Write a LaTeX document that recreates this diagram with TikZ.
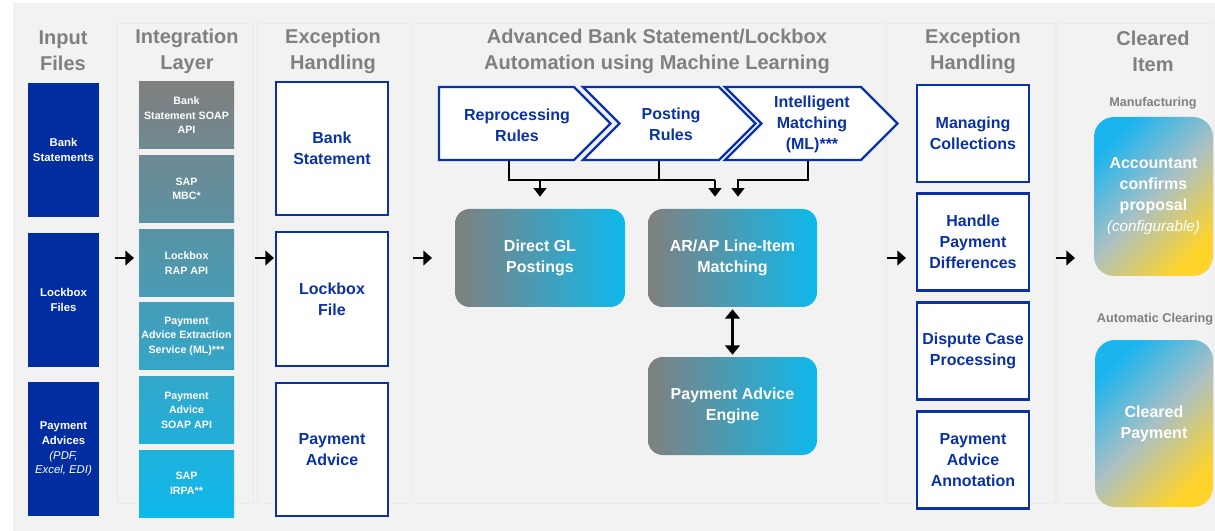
\documentclass[tikz,border=0pt]{standalone}
\usepackage{fontspec}
\setmainfont{Liberation Sans}
\usetikzlibrary{arrows.meta}
\definecolor{bgc}{HTML}{F2F2F2}
\definecolor{navy}{HTML}{002EA0}
\definecolor{bblue}{HTML}{0A32A5}
\definecolor{hgray}{HTML}{808080}
\definecolor{gA}{HTML}{808080}
\definecolor{gB}{HTML}{0EB9EC}
\definecolor{cyanc}{HTML}{1BB4EF}
\definecolor{yelc}{HTML}{FFD42A}
\definecolor{midc}{HTML}{A9C0C4}
\definecolor{panelc}{HTML}{ECECEE}
\begin{document}
\begin{tikzpicture}[x=0.75pt,y=-0.75pt,
  sz/.style 2 args={minimum width=#1*0.75pt, minimum height=#2*0.75pt},
  hdr/.style={text=hgray, font=\fontsize{15}{19.5}\selectfont\bfseries, align=center, inner sep=0pt},
  sublbl/.style={text=hgray, font=\fontsize{9.5}{11}\selectfont\bfseries, align=center, inner sep=0pt},
  inbox/.style={fill=navy, text=white, font=\fontsize{8.5}{11}\selectfont\bfseries, align=center, inner sep=0pt},
  intbox/.style={text=white, font=\fontsize{8}{10.9}\selectfont\bfseries, align=center, inner sep=0pt},
  exbox/.style={draw=bblue, line width=1.8pt, fill=white, text=bblue, font=\fontsize{12}{15.75}\selectfont\bfseries, align=center, inner sep=0pt},
  chev/.style={draw=bblue, line width=1.8pt, fill=white},
  chevtxt/.style={text=bblue, font=\fontsize{12}{16}\selectfont\bfseries, align=center, inner sep=0pt},
  gbox/.style={rounded corners=11pt, left color=gA, right color=gB, text=white, font=\fontsize{12}{15.75}\selectfont\bfseries, align=center, inner sep=0pt},
  cbox/.style={rounded corners=15pt, top color=cyanc, bottom color=yelc, middle color=midc, shading angle=45, text=white, font=\fontsize{12}{15.75}\selectfont\bfseries, align=center, inner sep=0pt},
  colarrow/.style={line width=1.7pt, -{Triangle[width=11pt,length=6.5pt]}},
  conn/.style={line width=1.6pt},
  connarrow/.style={line width=1.6pt, -{Triangle[width=9.5pt,length=6.5pt]}},
  dblarrow/.style={line width=1.6pt, {Triangle[width=11pt,length=7pt]}-{Triangle[width=11pt,length=7pt]}},
  panel/.style={draw=panelc, line width=0.6pt}
]
\useasboundingbox (0,0) rectangle (1215,531);
\fill[bgc] (13,3) rectangle (1215,531);

% faint column panels
\draw[panel] (117,23) rectangle (253,503);
\draw[panel] (257,23) rectangle (410,503);
\draw[panel] (413,23) rectangle (885,503);
\draw[panel] (887,23) rectangle (1055,503);
\draw[panel] (1057,23) rectangle (1213,503);

% headers
\node[hdr] (h1) at (63,51) {Input\\Files};
\node[hdr] (h2) at (187,51) {Integration\\Layer};
\node[hdr] (h3) at (333,51) {Exception\\Handling};
\node[hdr] (h4) at (657,51) {Advanced Bank Statement/Lockbox\\Automation using Machine Learning};
\node[hdr] (h5) at (973,51) {Exception\\Handling};
\node[hdr] (h6) at (1153,51) {Cleared\\Item};

% input files
\node[inbox, sz={71}{134}] (bs) at (63.5,150) {Bank\\Statements};
\node[inbox, sz={71}{134}] (lf) at (63.5,300) {Lockbox\\Files};
\node[inbox, sz={71}{134}] (pa) at (63.5,449) {Payment\\Advices\\{\mdseries\itshape (PDF,}\\{\mdseries\itshape Excel, EDI)}};

% integration layer
\node[intbox, sz={95}{67}, top color=gA, bottom color=gB!15!gA] (i1) at (186.5,115.5) {Bank\\Statement SOAP\\API};
\node[intbox, sz={95}{67}, top color=gB!17!gA, bottom color=gB!32!gA] (i2) at (186.5,189) {SAP\\MBC*};
\node[intbox, sz={95}{67}, top color=gB!34!gA, bottom color=gB!49!gA] (i3) at (186.5,263) {Lockbox\\RAP API};
\node[intbox, sz={95}{67}, top color=gB!51!gA, bottom color=gB!66!gA] (i4) at (186.5,336) {Payment\\Advice Extraction\\Service (ML)***};
\node[intbox, sz={95}{67}, top color=gB!68!gA, bottom color=gB!83!gA] (i5) at (186.5,410) {Payment\\Advice\\SOAP API};
\node[intbox, sz={95}{67}, top color=gB!85!gA, bottom color=gB] (i6) at (186.5,483.5) {SAP\\IRPA**};

% exception handling (left)
\node[exbox, sz={112}{133}] (e1) at (332,148.5) {Bank\\Statement};
\node[exbox, sz={112}{134}] (e2) at (332,299) {Lockbox\\File};
\node[exbox, sz={112}{133}] (e3) at (332,449.5) {Payment\\Advice};

% chevrons
\draw[chev] (439,87) -- (574,87) -- (610.5,123.5) -- (574,160) -- (439,160) -- cycle;
\draw[chev] (583,87) -- (719,87) -- (755.5,123.5) -- (719,160) -- (583,160) -- (619.5,123.5) -- cycle;
\draw[chev] (725,87) -- (861,87) -- (897.5,123.5) -- (861,160) -- (725,160) -- (761.5,123.5) -- cycle;
\node[chevtxt] (r1) at (517,125.5) {Reprocessing\\Rules};
\node[chevtxt] (r2) at (671,124.5) {Posting\\Rules};
\node[chevtxt] (r3) at (812,124.5) {Intelligent\\Matching\\(ML)***};

% gradient boxes
\node[gbox, sz={170}{98}] (dgl) at (540,258) {Direct GL\\Postings};
\node[gbox, sz={169}{98}] (ar) at (732.5,258) {AR/AP Line-Item\\Matching};
\node[gbox, sz={169}{98}] (pae) at (732.5,406) {Payment Advice\\Engine};

% chevron connectors
\coordinate (c1b) at (509,161);
\coordinate (c2b) at (659,161);
\coordinate (c3b) at (808,161);
\coordinate (j1) at (540,180);
\coordinate (j2) at (715,180);
\coordinate (j3) at (738,180);
\draw[conn] (c1b) |- (j2);
\draw[conn] (c2b) -- (c2b |- j2);
\draw[connarrow, shorten >=9pt] (j1) -- (j1 |- dgl.north);
\draw[connarrow, shorten >=9pt] (j2) -- (j2 |- ar.north);
\draw[connarrow, shorten >=9pt] (c3b) |- (j3) -- (j3 |- ar.north);
\draw[dblarrow, shorten >=1.5pt, shorten <=1.5pt] (ar.south) -- (pae.north);

% exception handling (right)
\node[exbox, sz={112}{97}] (x1) at (973,133.5) {Managing\\Collections};
\node[exbox, sz={112}{97}] (x2) at (973,242) {Handle\\Payment\\Differences};
\node[exbox, sz={112}{97}] (x3) at (973,351) {Dispute Case\\Processing};
\node[exbox, sz={112}{97}] (x4) at (973,460) {Payment\\Advice\\Annotation};

% cleared item
\node[sublbl] (m1) at (1153,103) {Manufacturing};
\node[cbox, sz={119}{159}] (cb1) at (1153.5,196.5) {Accountant\\confirms\\proposal\\{\mdseries\itshape\fontsize{11.4}{15}\selectfont (configurable)}};
\node[sublbl] (m2) at (1155,319) {Automatic Clearing};
\node[cbox, sz={118}{167}] (cb2) at (1154,423.5) {Cleared\\Payment};

% column arrows
\coordinate (a1s) at (115,258); \coordinate (a1e) at (134,258);
\coordinate (a2s) at (255,258); \coordinate (a2e) at (274,258);
\coordinate (a3s) at (413,258); \coordinate (a3e) at (432,258);
\coordinate (a4s) at (887,258); \coordinate (a4e) at (906,258);
\coordinate (a5s) at (1056,258); \coordinate (a5e) at (1075,258);
\draw[colarrow] (a1s) -- (a1e);
\draw[colarrow] (a2s) -- (a2e);
\draw[colarrow] (a3s) -- (a3e);
\draw[colarrow] (a4s) -- (a4e);
\draw[colarrow] (a5s) -- (a5e);
\end{tikzpicture}
\end{document}
